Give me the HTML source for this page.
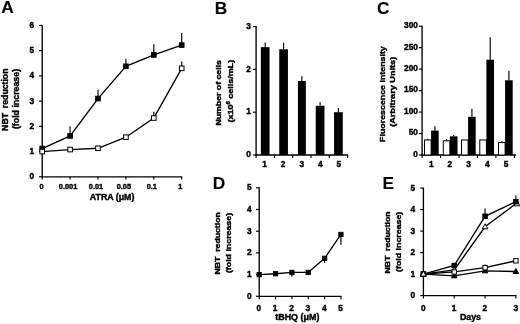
<!DOCTYPE html>
<html><head><meta charset="utf-8"><style>
html,body{margin:0;padding:0;background:#fff;}
svg{display:block;font-family:"Liberation Sans",sans-serif;}
</style></head><body>
<svg width="520" height="324" viewBox="0 0 520 324">
<rect width="520" height="324" fill="#fff"/>
<g filter="url(#b)">
<line x1="42.20" y1="177.30" x2="42.20" y2="24.92" stroke="#000" stroke-width="1.35"/>
<line x1="39.00" y1="176.80" x2="42.20" y2="176.80" stroke="#000" stroke-width="1.15"/>
<text x="34.20" y="179.32" font-size="8.3" font-weight="bold" text-anchor="end" stroke="#000" stroke-width="0.4">0</text>
<line x1="39.00" y1="151.57" x2="42.20" y2="151.57" stroke="#000" stroke-width="1.15"/>
<text x="34.20" y="154.09" font-size="8.3" font-weight="bold" text-anchor="end" stroke="#000" stroke-width="0.4">1</text>
<line x1="39.00" y1="126.34" x2="42.20" y2="126.34" stroke="#000" stroke-width="1.15"/>
<text x="34.20" y="128.86" font-size="8.3" font-weight="bold" text-anchor="end" stroke="#000" stroke-width="0.4">2</text>
<line x1="39.00" y1="101.11" x2="42.20" y2="101.11" stroke="#000" stroke-width="1.15"/>
<text x="34.20" y="103.63" font-size="8.3" font-weight="bold" text-anchor="end" stroke="#000" stroke-width="0.4">3</text>
<line x1="39.00" y1="75.88" x2="42.20" y2="75.88" stroke="#000" stroke-width="1.15"/>
<text x="34.20" y="78.40" font-size="8.3" font-weight="bold" text-anchor="end" stroke="#000" stroke-width="0.4">4</text>
<line x1="39.00" y1="50.65" x2="42.20" y2="50.65" stroke="#000" stroke-width="1.15"/>
<text x="34.20" y="53.17" font-size="8.3" font-weight="bold" text-anchor="end" stroke="#000" stroke-width="0.4">5</text>
<line x1="39.00" y1="25.42" x2="42.20" y2="25.42" stroke="#000" stroke-width="1.15"/>
<text x="34.20" y="27.94" font-size="8.3" font-weight="bold" text-anchor="end" stroke="#000" stroke-width="0.4">6</text>
<line x1="41.70" y1="176.80" x2="182.20" y2="176.80" stroke="#000" stroke-width="1.35"/>
<line x1="42.20" y1="176.80" x2="42.20" y2="179.40" stroke="#000" stroke-width="1.15"/>
<text x="41.60" y="189.00" font-size="7.4" font-weight="bold" text-anchor="middle" stroke="#000" stroke-width="0.4">0</text>
<line x1="70.10" y1="176.80" x2="70.10" y2="179.40" stroke="#000" stroke-width="1.15"/>
<text x="68.10" y="189.00" font-size="7.4" font-weight="bold" text-anchor="middle" stroke="#000" stroke-width="0.4">0.001</text>
<line x1="98.00" y1="176.80" x2="98.00" y2="179.40" stroke="#000" stroke-width="1.15"/>
<text x="96.00" y="189.00" font-size="7.4" font-weight="bold" text-anchor="middle" stroke="#000" stroke-width="0.4">0.01</text>
<line x1="125.90" y1="176.80" x2="125.90" y2="179.40" stroke="#000" stroke-width="1.15"/>
<text x="123.90" y="189.00" font-size="7.4" font-weight="bold" text-anchor="middle" stroke="#000" stroke-width="0.4">0.05</text>
<line x1="153.80" y1="176.80" x2="153.80" y2="179.40" stroke="#000" stroke-width="1.15"/>
<text x="151.80" y="189.00" font-size="7.4" font-weight="bold" text-anchor="middle" stroke="#000" stroke-width="0.4">0.1</text>
<line x1="181.70" y1="176.80" x2="181.70" y2="179.40" stroke="#000" stroke-width="1.15"/>
<text x="180.20" y="189.00" font-size="7.4" font-weight="bold" text-anchor="middle" stroke="#000" stroke-width="0.4">1</text>
<text x="112.10" y="199.50" font-size="8.4" font-weight="bold" text-anchor="middle" stroke="#000" stroke-width="0.4" textLength="44.6" lengthAdjust="spacingAndGlyphs">ATRA (μM)</text>
<text x="7.60" y="99.70" font-size="8.4" font-weight="bold" text-anchor="middle" stroke="#000" stroke-width="0.4" transform="rotate(-90 7.60 99.70)" textLength="62.4" lengthAdjust="spacingAndGlyphs">NBT&#160;&#160;reduction</text>
<text x="19.00" y="99.00" font-size="8.4" font-weight="bold" text-anchor="middle" stroke="#000" stroke-width="0.4" transform="rotate(-90 19.00 99.00)" textLength="60.2" lengthAdjust="spacingAndGlyphs">(fold increase)</text>
<text x="1.20" y="13.30" font-size="17.3" font-weight="bold" text-anchor="start" stroke="#000" stroke-width="0.1">A</text>
<line x1="70.10" y1="135.93" x2="70.10" y2="126.34" stroke="#000" stroke-width="1.15"/>
<line x1="98.00" y1="98.59" x2="98.00" y2="89.76" stroke="#000" stroke-width="1.15"/>
<line x1="125.90" y1="66.29" x2="125.90" y2="58.72" stroke="#000" stroke-width="1.15"/>
<line x1="153.80" y1="54.94" x2="153.80" y2="44.34" stroke="#000" stroke-width="1.15"/>
<line x1="181.70" y1="45.10" x2="181.70" y2="32.99" stroke="#000" stroke-width="1.15"/>
<line x1="98.00" y1="148.29" x2="98.00" y2="145.77" stroke="#000" stroke-width="1.15"/>
<line x1="125.90" y1="137.19" x2="125.90" y2="134.67" stroke="#000" stroke-width="1.15"/>
<line x1="153.80" y1="118.01" x2="153.80" y2="111.71" stroke="#000" stroke-width="1.15"/>
<line x1="181.70" y1="68.31" x2="181.70" y2="61.50" stroke="#000" stroke-width="1.15"/>
<polyline fill="none" stroke="#000" stroke-width="1.35" points="42.20,148.54 70.10,135.93 98.00,98.59 125.90,66.29 153.80,54.94 181.70,45.10"/>
<polyline fill="none" stroke="#000" stroke-width="1.35" points="42.20,151.57 70.10,149.55 98.00,148.29 125.90,137.19 153.80,118.01 181.70,68.31"/>
<rect x="39.90" y="146.24" width="4.60" height="4.60" fill="#000" stroke="#000" stroke-width="1"/>
<rect x="67.80" y="133.63" width="4.60" height="4.60" fill="#000" stroke="#000" stroke-width="1"/>
<rect x="95.70" y="96.29" width="4.60" height="4.60" fill="#000" stroke="#000" stroke-width="1"/>
<rect x="123.60" y="63.99" width="4.60" height="4.60" fill="#000" stroke="#000" stroke-width="1"/>
<rect x="151.50" y="52.64" width="4.60" height="4.60" fill="#000" stroke="#000" stroke-width="1"/>
<rect x="179.40" y="42.80" width="4.60" height="4.60" fill="#000" stroke="#000" stroke-width="1"/>
<rect x="39.90" y="149.27" width="4.60" height="4.60" fill="#fff" stroke="#000" stroke-width="1"/>
<rect x="67.80" y="147.25" width="4.60" height="4.60" fill="#fff" stroke="#000" stroke-width="1"/>
<rect x="95.70" y="145.99" width="4.60" height="4.60" fill="#fff" stroke="#000" stroke-width="1"/>
<rect x="123.60" y="134.89" width="4.60" height="4.60" fill="#fff" stroke="#000" stroke-width="1"/>
<rect x="151.50" y="115.71" width="4.60" height="4.60" fill="#fff" stroke="#000" stroke-width="1"/>
<rect x="179.40" y="66.01" width="4.60" height="4.60" fill="#fff" stroke="#000" stroke-width="1"/>
<line x1="256.10" y1="155.50" x2="256.10" y2="26.10" stroke="#000" stroke-width="1.35"/>
<line x1="252.90" y1="155.00" x2="256.10" y2="155.00" stroke="#000" stroke-width="1.15"/>
<text x="250.80" y="157.12" font-size="8.3" font-weight="bold" text-anchor="end" stroke="#000" stroke-width="0.4">0</text>
<line x1="252.90" y1="112.20" x2="256.10" y2="112.20" stroke="#000" stroke-width="1.15"/>
<text x="250.80" y="114.32" font-size="8.3" font-weight="bold" text-anchor="end" stroke="#000" stroke-width="0.4">1</text>
<line x1="252.90" y1="69.40" x2="256.10" y2="69.40" stroke="#000" stroke-width="1.15"/>
<text x="250.80" y="71.52" font-size="8.3" font-weight="bold" text-anchor="end" stroke="#000" stroke-width="0.4">2</text>
<line x1="252.90" y1="26.60" x2="256.10" y2="26.60" stroke="#000" stroke-width="1.15"/>
<text x="250.80" y="28.72" font-size="8.3" font-weight="bold" text-anchor="end" stroke="#000" stroke-width="0.4">3</text>
<line x1="256.10" y1="155.00" x2="256.10" y2="158.00" stroke="#000" stroke-width="1.15"/>
<line x1="274.40" y1="155.00" x2="274.40" y2="158.00" stroke="#000" stroke-width="1.15"/>
<line x1="292.70" y1="155.00" x2="292.70" y2="158.00" stroke="#000" stroke-width="1.15"/>
<line x1="311.00" y1="155.00" x2="311.00" y2="158.00" stroke="#000" stroke-width="1.15"/>
<line x1="329.30" y1="155.00" x2="329.30" y2="158.00" stroke="#000" stroke-width="1.15"/>
<line x1="347.60" y1="155.00" x2="347.60" y2="158.00" stroke="#000" stroke-width="1.15"/>
<line x1="255.60" y1="155.00" x2="348.00" y2="155.00" stroke="#000" stroke-width="1.35"/>
<rect x="260.85" y="47.14" width="8.70" height="107.86" fill="#000"/>
<line x1="265.20" y1="47.14" x2="265.20" y2="42.44" stroke="#000" stroke-width="1.15"/>
<text x="264.60" y="167.00" font-size="8.3" font-weight="bold" text-anchor="middle" stroke="#000" stroke-width="0.4">1</text>
<rect x="279.25" y="49.28" width="8.70" height="105.72" fill="#000"/>
<line x1="283.60" y1="49.28" x2="283.60" y2="42.86" stroke="#000" stroke-width="1.15"/>
<text x="283.15" y="167.00" font-size="8.3" font-weight="bold" text-anchor="middle" stroke="#000" stroke-width="0.4">2</text>
<rect x="297.95" y="80.96" width="7.90" height="74.04" fill="#000"/>
<line x1="301.90" y1="80.96" x2="301.90" y2="76.25" stroke="#000" stroke-width="1.15"/>
<text x="301.70" y="167.00" font-size="8.3" font-weight="bold" text-anchor="middle" stroke="#000" stroke-width="0.4">3</text>
<rect x="315.75" y="105.78" width="8.70" height="49.22" fill="#000"/>
<line x1="320.10" y1="105.78" x2="320.10" y2="102.36" stroke="#000" stroke-width="1.15"/>
<text x="320.25" y="167.00" font-size="8.3" font-weight="bold" text-anchor="middle" stroke="#000" stroke-width="0.4">4</text>
<rect x="334.05" y="112.20" width="8.70" height="42.80" fill="#000"/>
<line x1="338.40" y1="112.20" x2="338.40" y2="107.92" stroke="#000" stroke-width="1.15"/>
<text x="338.80" y="167.00" font-size="8.3" font-weight="bold" text-anchor="middle" stroke="#000" stroke-width="0.4">5</text>
<text x="221.40" y="92.80" font-size="7.7" font-weight="bold" text-anchor="middle" stroke="#000" stroke-width="0.4" transform="rotate(-90 221.40 92.80)" textLength="65.4" lengthAdjust="spacingAndGlyphs">Number of cells</text>
<text x="232.90" y="91.10" font-size="7.7" font-weight="bold" text-anchor="middle" stroke="#000" stroke-width="0.4" transform="rotate(-90 232.90 91.10)" textLength="63" lengthAdjust="spacingAndGlyphs">(x10<tspan font-size="5" dy="-3">6</tspan><tspan dy="3"> cells/mL)</tspan></text>
<text x="214.80" y="13.60" font-size="17.3" font-weight="bold" text-anchor="start" stroke="#000" stroke-width="0.1">B</text>
<line x1="422.10" y1="155.50" x2="422.10" y2="25.71" stroke="#000" stroke-width="1.35"/>
<line x1="418.90" y1="155.00" x2="422.10" y2="155.00" stroke="#000" stroke-width="1.15"/>
<text x="417.90" y="156.82" font-size="8.3" font-weight="bold" text-anchor="end" stroke="#000" stroke-width="0.4">0</text>
<line x1="418.90" y1="133.53" x2="422.10" y2="133.53" stroke="#000" stroke-width="1.15"/>
<text x="417.90" y="135.36" font-size="8.3" font-weight="bold" text-anchor="end" stroke="#000" stroke-width="0.4">50</text>
<line x1="418.90" y1="112.07" x2="422.10" y2="112.07" stroke="#000" stroke-width="1.15"/>
<text x="417.90" y="113.89" font-size="8.3" font-weight="bold" text-anchor="end" stroke="#000" stroke-width="0.4">100</text>
<line x1="418.90" y1="90.61" x2="422.10" y2="90.61" stroke="#000" stroke-width="1.15"/>
<text x="417.90" y="92.43" font-size="8.3" font-weight="bold" text-anchor="end" stroke="#000" stroke-width="0.4">150</text>
<line x1="418.90" y1="69.14" x2="422.10" y2="69.14" stroke="#000" stroke-width="1.15"/>
<text x="417.90" y="70.96" font-size="8.3" font-weight="bold" text-anchor="end" stroke="#000" stroke-width="0.4">200</text>
<line x1="418.90" y1="47.67" x2="422.10" y2="47.67" stroke="#000" stroke-width="1.15"/>
<text x="417.90" y="49.50" font-size="8.3" font-weight="bold" text-anchor="end" stroke="#000" stroke-width="0.4">250</text>
<line x1="418.90" y1="26.21" x2="422.10" y2="26.21" stroke="#000" stroke-width="1.15"/>
<text x="417.90" y="28.03" font-size="8.3" font-weight="bold" text-anchor="end" stroke="#000" stroke-width="0.4">300</text>
<line x1="422.10" y1="155.00" x2="422.10" y2="158.00" stroke="#000" stroke-width="1.15"/>
<line x1="440.55" y1="155.00" x2="440.55" y2="158.00" stroke="#000" stroke-width="1.15"/>
<line x1="459.00" y1="155.00" x2="459.00" y2="158.00" stroke="#000" stroke-width="1.15"/>
<line x1="477.45" y1="155.00" x2="477.45" y2="158.00" stroke="#000" stroke-width="1.15"/>
<line x1="495.90" y1="155.00" x2="495.90" y2="158.00" stroke="#000" stroke-width="1.15"/>
<line x1="514.35" y1="155.00" x2="514.35" y2="158.00" stroke="#000" stroke-width="1.15"/>
<line x1="421.60" y1="155.00" x2="516.00" y2="155.00" stroke="#000" stroke-width="1.35"/>
<rect x="424.50" y="139.97" width="6.60" height="15.03" fill="#fff" stroke="#000" stroke-width="1"/>
<rect x="431.10" y="130.53" width="7.60" height="24.47" fill="#000"/>
<line x1="427.80" y1="139.97" x2="427.80" y2="138.69" stroke="#000" stroke-width="1.15"/>
<line x1="434.90" y1="130.53" x2="434.90" y2="126.24" stroke="#000" stroke-width="1.15"/>
<text x="431.20" y="167.00" font-size="8.3" font-weight="bold" text-anchor="middle" stroke="#000" stroke-width="0.4">1</text>
<rect x="443.30" y="140.83" width="6.60" height="14.17" fill="#fff" stroke="#000" stroke-width="1"/>
<rect x="449.90" y="136.33" width="7.60" height="18.67" fill="#000"/>
<line x1="446.60" y1="140.83" x2="446.60" y2="139.12" stroke="#000" stroke-width="1.15"/>
<line x1="453.70" y1="136.33" x2="453.70" y2="135.04" stroke="#000" stroke-width="1.15"/>
<text x="449.90" y="167.00" font-size="8.3" font-weight="bold" text-anchor="middle" stroke="#000" stroke-width="0.4">2</text>
<rect x="461.50" y="139.97" width="6.60" height="15.03" fill="#fff" stroke="#000" stroke-width="1"/>
<rect x="468.10" y="116.79" width="7.60" height="38.21" fill="#000"/>
<line x1="471.90" y1="116.79" x2="471.90" y2="108.64" stroke="#000" stroke-width="1.15"/>
<text x="468.60" y="167.00" font-size="8.3" font-weight="bold" text-anchor="middle" stroke="#000" stroke-width="0.4">3</text>
<rect x="479.80" y="139.97" width="6.60" height="15.03" fill="#fff" stroke="#000" stroke-width="1"/>
<rect x="486.40" y="59.70" width="7.60" height="95.30" fill="#000"/>
<line x1="490.20" y1="59.70" x2="490.20" y2="37.37" stroke="#000" stroke-width="1.15"/>
<text x="487.30" y="167.00" font-size="8.3" font-weight="bold" text-anchor="middle" stroke="#000" stroke-width="0.4">4</text>
<rect x="498.50" y="142.55" width="6.60" height="12.45" fill="#fff" stroke="#000" stroke-width="1"/>
<rect x="505.10" y="80.30" width="7.60" height="74.70" fill="#000"/>
<line x1="501.80" y1="142.55" x2="501.80" y2="141.26" stroke="#000" stroke-width="1.15"/>
<line x1="508.90" y1="80.30" x2="508.90" y2="70.86" stroke="#000" stroke-width="1.15"/>
<text x="506.00" y="167.00" font-size="8.3" font-weight="bold" text-anchor="middle" stroke="#000" stroke-width="0.4">5</text>
<text x="385.00" y="94.05" font-size="7.9" font-weight="bold" text-anchor="middle" stroke="#000" stroke-width="0.4" transform="rotate(-90 385.00 94.05)" textLength="95.7" lengthAdjust="spacingAndGlyphs">Fluorescence intensity</text>
<text x="395.40" y="91.80" font-size="7.9" font-weight="bold" text-anchor="middle" stroke="#000" stroke-width="0.4" transform="rotate(-90 395.40 91.80)" textLength="70" lengthAdjust="spacingAndGlyphs">(Arbitrary Units)</text>
<text x="377.00" y="13.60" font-size="17.3" font-weight="bold" text-anchor="start" stroke="#000" stroke-width="0.1">C</text>
<line x1="259.20" y1="296.80" x2="259.20" y2="187.30" stroke="#000" stroke-width="1.35"/>
<line x1="256.00" y1="296.30" x2="259.20" y2="296.30" stroke="#000" stroke-width="1.15"/>
<text x="251.60" y="298.62" font-size="8.3" font-weight="bold" text-anchor="end" stroke="#000" stroke-width="0.4">0</text>
<line x1="256.00" y1="274.60" x2="259.20" y2="274.60" stroke="#000" stroke-width="1.15"/>
<text x="251.60" y="276.92" font-size="8.3" font-weight="bold" text-anchor="end" stroke="#000" stroke-width="0.4">1</text>
<line x1="256.00" y1="252.90" x2="259.20" y2="252.90" stroke="#000" stroke-width="1.15"/>
<text x="251.60" y="255.22" font-size="8.3" font-weight="bold" text-anchor="end" stroke="#000" stroke-width="0.4">2</text>
<line x1="256.00" y1="231.20" x2="259.20" y2="231.20" stroke="#000" stroke-width="1.15"/>
<text x="251.60" y="233.52" font-size="8.3" font-weight="bold" text-anchor="end" stroke="#000" stroke-width="0.4">3</text>
<line x1="256.00" y1="209.50" x2="259.20" y2="209.50" stroke="#000" stroke-width="1.15"/>
<text x="251.60" y="211.82" font-size="8.3" font-weight="bold" text-anchor="end" stroke="#000" stroke-width="0.4">4</text>
<line x1="256.00" y1="187.80" x2="259.20" y2="187.80" stroke="#000" stroke-width="1.15"/>
<text x="251.60" y="190.12" font-size="8.3" font-weight="bold" text-anchor="end" stroke="#000" stroke-width="0.4">5</text>
<line x1="258.70" y1="296.30" x2="341.45" y2="296.30" stroke="#000" stroke-width="1.35"/>
<line x1="259.20" y1="296.30" x2="259.20" y2="299.30" stroke="#000" stroke-width="1.15"/>
<text x="258.80" y="310.50" font-size="8.3" font-weight="bold" text-anchor="middle" stroke="#000" stroke-width="0.4">0</text>
<line x1="275.55" y1="296.30" x2="275.55" y2="299.30" stroke="#000" stroke-width="1.15"/>
<text x="275.15" y="310.50" font-size="8.3" font-weight="bold" text-anchor="middle" stroke="#000" stroke-width="0.4">1</text>
<line x1="291.90" y1="296.30" x2="291.90" y2="299.30" stroke="#000" stroke-width="1.15"/>
<text x="291.50" y="310.50" font-size="8.3" font-weight="bold" text-anchor="middle" stroke="#000" stroke-width="0.4">2</text>
<line x1="308.25" y1="296.30" x2="308.25" y2="299.30" stroke="#000" stroke-width="1.15"/>
<text x="307.85" y="310.50" font-size="8.3" font-weight="bold" text-anchor="middle" stroke="#000" stroke-width="0.4">3</text>
<line x1="324.60" y1="296.30" x2="324.60" y2="299.30" stroke="#000" stroke-width="1.15"/>
<text x="324.20" y="310.50" font-size="8.3" font-weight="bold" text-anchor="middle" stroke="#000" stroke-width="0.4">4</text>
<line x1="340.95" y1="296.30" x2="340.95" y2="299.30" stroke="#000" stroke-width="1.15"/>
<text x="340.55" y="310.50" font-size="8.3" font-weight="bold" text-anchor="middle" stroke="#000" stroke-width="0.4">5</text>
<text x="297.30" y="319.80" font-size="8.4" font-weight="bold" text-anchor="middle" stroke="#000" stroke-width="0.4" textLength="44.1" lengthAdjust="spacingAndGlyphs">tBHQ (μM)</text>
<text x="219.70" y="243.35" font-size="7.9" font-weight="bold" text-anchor="middle" stroke="#000" stroke-width="0.4" transform="rotate(-90 219.70 243.35)" textLength="62.3" lengthAdjust="spacingAndGlyphs">NBT&#160;&#160;reduction</text>
<text x="231.20" y="243.00" font-size="7.9" font-weight="bold" text-anchor="middle" stroke="#000" stroke-width="0.4" transform="rotate(-90 231.20 243.00)" textLength="60.2" lengthAdjust="spacingAndGlyphs">(fold increase)</text>
<text x="212.70" y="188.60" font-size="17.3" font-weight="bold" text-anchor="start" stroke="#000" stroke-width="0.1">D</text>
<line x1="291.90" y1="272.43" x2="291.90" y2="276.77" stroke="#000" stroke-width="1.15"/>
<line x1="324.60" y1="258.32" x2="324.60" y2="262.67" stroke="#000" stroke-width="1.15"/>
<line x1="340.95" y1="234.46" x2="340.95" y2="244.65" stroke="#000" stroke-width="1.15"/>
<polyline fill="none" stroke="#000" stroke-width="1.35" points="259.20,274.60 275.55,273.73 291.90,272.43 308.25,272.43 324.60,258.32 340.95,234.46"/>
<rect x="257.10" y="272.50" width="4.20" height="4.20" fill="#000" stroke="#000" stroke-width="1"/>
<rect x="273.45" y="271.63" width="4.20" height="4.20" fill="#000" stroke="#000" stroke-width="1"/>
<rect x="289.80" y="270.33" width="4.20" height="4.20" fill="#000" stroke="#000" stroke-width="1"/>
<rect x="306.15" y="270.33" width="4.20" height="4.20" fill="#000" stroke="#000" stroke-width="1"/>
<rect x="322.50" y="256.22" width="4.20" height="4.20" fill="#000" stroke="#000" stroke-width="1"/>
<rect x="338.85" y="232.36" width="4.20" height="4.20" fill="#000" stroke="#000" stroke-width="1"/>
<line x1="423.40" y1="296.10" x2="423.40" y2="187.60" stroke="#000" stroke-width="1.35"/>
<line x1="420.20" y1="295.60" x2="423.40" y2="295.60" stroke="#000" stroke-width="1.15"/>
<text x="415.10" y="298.22" font-size="8.3" font-weight="bold" text-anchor="end" stroke="#000" stroke-width="0.4">0</text>
<line x1="420.20" y1="274.10" x2="423.40" y2="274.10" stroke="#000" stroke-width="1.15"/>
<text x="415.10" y="276.72" font-size="8.3" font-weight="bold" text-anchor="end" stroke="#000" stroke-width="0.4">1</text>
<line x1="420.20" y1="252.60" x2="423.40" y2="252.60" stroke="#000" stroke-width="1.15"/>
<text x="415.10" y="255.22" font-size="8.3" font-weight="bold" text-anchor="end" stroke="#000" stroke-width="0.4">2</text>
<line x1="420.20" y1="231.10" x2="423.40" y2="231.10" stroke="#000" stroke-width="1.15"/>
<text x="415.10" y="233.72" font-size="8.3" font-weight="bold" text-anchor="end" stroke="#000" stroke-width="0.4">3</text>
<line x1="420.20" y1="209.60" x2="423.40" y2="209.60" stroke="#000" stroke-width="1.15"/>
<text x="415.10" y="212.22" font-size="8.3" font-weight="bold" text-anchor="end" stroke="#000" stroke-width="0.4">4</text>
<line x1="420.20" y1="188.10" x2="423.40" y2="188.10" stroke="#000" stroke-width="1.15"/>
<text x="415.10" y="190.72" font-size="8.3" font-weight="bold" text-anchor="end" stroke="#000" stroke-width="0.4">5</text>
<line x1="422.90" y1="295.60" x2="516.39" y2="295.60" stroke="#000" stroke-width="1.35"/>
<line x1="423.40" y1="295.60" x2="423.40" y2="298.60" stroke="#000" stroke-width="1.15"/>
<text x="423.20" y="310.50" font-size="8.3" font-weight="bold" text-anchor="middle" stroke="#000" stroke-width="0.4">0</text>
<line x1="454.23" y1="295.60" x2="454.23" y2="298.60" stroke="#000" stroke-width="1.15"/>
<text x="454.03" y="310.50" font-size="8.3" font-weight="bold" text-anchor="middle" stroke="#000" stroke-width="0.4">1</text>
<line x1="485.06" y1="295.60" x2="485.06" y2="298.60" stroke="#000" stroke-width="1.15"/>
<text x="484.86" y="310.50" font-size="8.3" font-weight="bold" text-anchor="middle" stroke="#000" stroke-width="0.4">2</text>
<line x1="515.89" y1="295.60" x2="515.89" y2="298.60" stroke="#000" stroke-width="1.15"/>
<text x="515.69" y="310.50" font-size="8.3" font-weight="bold" text-anchor="middle" stroke="#000" stroke-width="0.4">3</text>
<text x="470.50" y="319.60" font-size="8.4" font-weight="bold" text-anchor="middle" stroke="#000" stroke-width="0.4" textLength="21" lengthAdjust="spacingAndGlyphs">Days</text>
<text x="389.80" y="242.50" font-size="7.9" font-weight="bold" text-anchor="middle" stroke="#000" stroke-width="0.4" transform="rotate(-90 389.80 242.50)" textLength="62" lengthAdjust="spacingAndGlyphs">NBT&#160;&#160;reduction</text>
<text x="401.10" y="241.80" font-size="7.9" font-weight="bold" text-anchor="middle" stroke="#000" stroke-width="0.4" transform="rotate(-90 401.10 241.80)" textLength="60.2" lengthAdjust="spacingAndGlyphs">(fold increase)</text>
<text x="382.50" y="188.60" font-size="17.3" font-weight="bold" text-anchor="start" stroke="#000" stroke-width="0.1">E</text>
<line x1="485.06" y1="216.27" x2="485.06" y2="208.53" stroke="#000" stroke-width="1.15"/>
<line x1="515.89" y1="201.65" x2="515.89" y2="195.41" stroke="#000" stroke-width="1.15"/>
<line x1="485.06" y1="267.65" x2="485.06" y2="264.43" stroke="#000" stroke-width="1.15"/>
<polyline fill="none" stroke="#000" stroke-width="1.35" points="423.40,274.10 454.23,265.50 485.06,216.27 515.89,201.65"/>
<polyline fill="none" stroke="#000" stroke-width="1.35" points="423.40,274.10 454.23,269.80 485.06,226.80 515.89,203.80"/>
<polyline fill="none" stroke="#000" stroke-width="1.35" points="423.40,274.10 454.23,271.95 485.06,267.65 515.89,260.77"/>
<polyline fill="none" stroke="#000" stroke-width="1.35" points="423.40,274.10 454.23,275.82 485.06,270.88 515.89,271.52"/>
<polygon points="423.40,271.13 420.65,276.08 426.15,276.08" fill="#000" stroke="#000" stroke-width="1"/>
<polygon points="454.23,272.85 451.48,277.80 456.98,277.80" fill="#000" stroke="#000" stroke-width="1"/>
<polygon points="485.06,267.90 482.31,272.86 487.81,272.86" fill="#000" stroke="#000" stroke-width="1"/>
<polygon points="515.89,268.55 513.14,273.50 518.64,273.50" fill="#000" stroke="#000" stroke-width="1"/>
<polygon points="423.40,271.08 420.60,276.12 426.20,276.12" fill="#fff" stroke="#000" stroke-width="1"/>
<polygon points="454.23,266.78 451.43,271.82 457.03,271.82" fill="#fff" stroke="#000" stroke-width="1"/>
<polygon points="485.06,223.78 482.26,228.82 487.86,228.82" fill="#fff" stroke="#000" stroke-width="1"/>
<polygon points="517.09,200.77 514.29,205.81 519.89,205.81" fill="#fff" stroke="#000" stroke-width="1"/>
<rect x="421.20" y="271.90" width="4.40" height="4.40" fill="#fff" stroke="#000" stroke-width="1"/>
<rect x="452.03" y="269.75" width="4.40" height="4.40" fill="#fff" stroke="#000" stroke-width="1"/>
<rect x="482.86" y="265.45" width="4.40" height="4.40" fill="#fff" stroke="#000" stroke-width="1"/>
<rect x="513.69" y="258.57" width="4.40" height="4.40" fill="#fff" stroke="#000" stroke-width="1"/>
<rect x="421.20" y="271.90" width="4.40" height="4.40" fill="#000" stroke="#000" stroke-width="1"/>
<rect x="452.03" y="263.30" width="4.40" height="4.40" fill="#000" stroke="#000" stroke-width="1"/>
<rect x="482.86" y="214.07" width="4.40" height="4.40" fill="#000" stroke="#000" stroke-width="1"/>
<rect x="513.69" y="199.45" width="4.40" height="4.40" fill="#000" stroke="#000" stroke-width="1"/>
<polygon points="423.40,271.08 420.60,276.12 426.20,276.12" fill="#fff" stroke="#000" stroke-width="1"/>
</g>
<defs><filter id="b" x="0" y="0" width="100%" height="100%" filterUnits="userSpaceOnUse"><feGaussianBlur stdDeviation="0.3"/></filter></defs>
</svg>
</body></html>
